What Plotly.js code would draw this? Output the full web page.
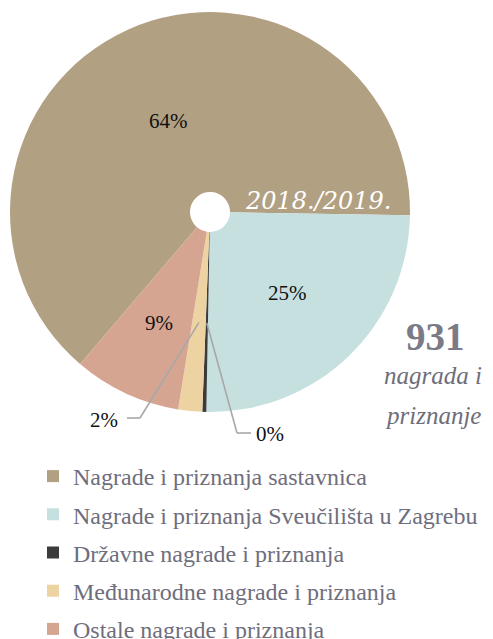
<!DOCTYPE html>
<html><head><meta charset="utf-8">
<script src="https://cdn.plot.ly/plotly-3.0.1.min.js"></script>
<style>html,body{margin:0;padding:0;background:#fff;overflow:hidden}</style>
</head><body><div id="chart" style="width:493px;height:639px"></div>
<script>
// ---- data ----
const categories = [
  'Nagrade i priznanja sastavnica',
  'Nagrade i priznanja Sveučilišta u Zagrebu',
  'Državne nagrade i priznanja',
  'Međunarodne nagrade i priznanja',
  'Ostale nagrade i priznanja'
];
const counts = [596, 233, 3, 18, 81];
const sliceColors = ['#B2A083', '#C6DFDF', '#3B3B3B', '#EDD3A1', '#D6A592'];
const yearLabel = '2018./2019.';
const totalLabel = '931';
const totalCaption = ['nagrada i', 'priznanje'];

// ---- layout helpers ----
const W = 493, H = 639;
const CX = 210, CY = 212, R = 200;
const rotation = 220.5;
const total = counts.reduce((a, b) => a + b, 0);
const pct = counts.map(v => Math.round(v / total * 100) + '%');
let acc = rotation; const mids = [];
counts.forEach(v => { const span = v / total * 360; mids.push(acc + span / 2); acc += span; });
function polar(a, rf) { const t = a * Math.PI / 180; return [CX + R * rf * Math.sin(t), CY - R * rf * Math.cos(t)]; }
const px2x = x => x / W, px2y = y => 1 - y / H;

const pieTrace = {
  type: 'pie',
  labels: categories,
  values: counts,
  sort: false,
  direction: 'clockwise',
  rotation: rotation,
  hole: 0.1,
  marker: { colors: sliceColors, line: { width: 0 } },
  textinfo: 'none',
  showlegend: false,
  automargin: false,
  domain: { x: [(CX - R) / W, (CX + R) / W], y: [px2y(CY + R), px2y(CY - R)] },
  hoverinfo: 'label+value+percent'
};

// legend entries (one per category, same colours as the slices)
const legendTraces = categories.map((c, i) => ({
  type: 'scatter', mode: 'markers', x: [null], y: [null], name: c,
  legendgroup: 'g' + i,
  marker: { symbol: 'square', size: 12, color: sliceColors[i] },
  hoverinfo: 'skip'
}));

const labelFont = { family: 'Liberation Serif', size: 21, color: '#111111' };
const shapes = [];
const annotations = [];

// inside labels of the larger slices
const insideRf = { 0: 0.5, 1: 0.56, 4: 0.61 };
Object.keys(insideRf).forEach(k => {
  const i = +k; const p = polar(mids[i], insideRf[k]);
  annotations.push({ xref: 'paper', yref: 'paper', x: px2x(p[0]), y: px2y(p[1]), xanchor: 'center', yanchor: 'middle', showarrow: false, text: pct[i], font: labelFont });
});

// leader lines for small slices
const small = {
  3: { elbow: [140, 418], end: [127, 418], anchor: 'right', tx: 120, ty: 420 },
  2: { elbow: [237, 433], end: [251, 433], anchor: 'left', tx: 254, ty: 434 }
};
Object.keys(small).forEach(k => {
  const i = +k, s = small[k];
  const p = polar(mids[i], 0.555);
  const lineStyle = { color: '#A8A8A8', width: 1.6 };
  shapes.push({ type: 'line', xref: 'paper', yref: 'paper', x0: px2x(p[0]), y0: px2y(p[1]), x1: px2x(s.elbow[0]), y1: px2y(s.elbow[1]), line: lineStyle });
  shapes.push({ type: 'line', xref: 'paper', yref: 'paper', x0: px2x(s.elbow[0]), y0: px2y(s.elbow[1]), x1: px2x(s.end[0]), y1: px2y(s.end[1]), line: lineStyle });
  annotations.push({ xref: 'paper', yref: 'paper', x: px2x(s.tx), y: px2y(s.ty), xanchor: s.anchor, yanchor: 'middle', showarrow: false, text: pct[i], font: labelFont });
});
annotations.push({ xref: 'paper', yref: 'paper', x: px2x(318), y: px2y(201), xanchor: 'center', yanchor: 'middle', showarrow: false, text: '<i>' + yearLabel + '</i>', font: { family: 'DejaVu Serif', size: 24, color: '#ffffff' } });
annotations.push({ xref: 'paper', yref: 'paper', x: px2x(435), y: px2y(336), xanchor: 'center', yanchor: 'middle', showarrow: false, text: '<b>' + totalLabel + '</b>', font: { family: 'Liberation Serif', size: 39, color: '#7A7B87' } });
annotations.push({ xref: 'paper', yref: 'paper', x: px2x(433), y: px2y(375), xanchor: 'center', yanchor: 'middle', showarrow: false, text: '<i>' + totalCaption[0] + '</i>', font: { family: 'Liberation Serif', size: 25, color: '#6E6E7A' } });
annotations.push({ xref: 'paper', yref: 'paper', x: px2x(433), y: px2y(415), xanchor: 'center', yanchor: 'middle', showarrow: false, text: '<i>' + totalCaption[1] + '</i>', font: { family: 'Liberation Serif', size: 25, color: '#6E6E7A' } });

const layout = {
  width: W, height: H,
  margin: { l: 0, r: 0, t: 0, b: 0, autoexpand: false },
  paper_bgcolor: '#ffffff', plot_bgcolor: 'rgba(0,0,0,0)',
  xaxis: { visible: false, fixedrange: true },
  yaxis: { visible: false, fixedrange: true },
  showlegend: true,
  legend: {
    orientation: 'v', x: px2x(33), xanchor: 'left', y: px2y(454), yanchor: 'top',
    font: { family: 'Liberation Serif', size: 24, color: '#6E6E7C' },
    bgcolor: 'rgba(0,0,0,0)', traceorder: 'grouped', tracegroupgap: 4
  },
  shapes: shapes,
  annotations: annotations
};

Plotly.newPlot('chart', [pieTrace].concat(legendTraces), layout, { displayModeBar: false, staticPlot: true });
</script>
</body></html>
